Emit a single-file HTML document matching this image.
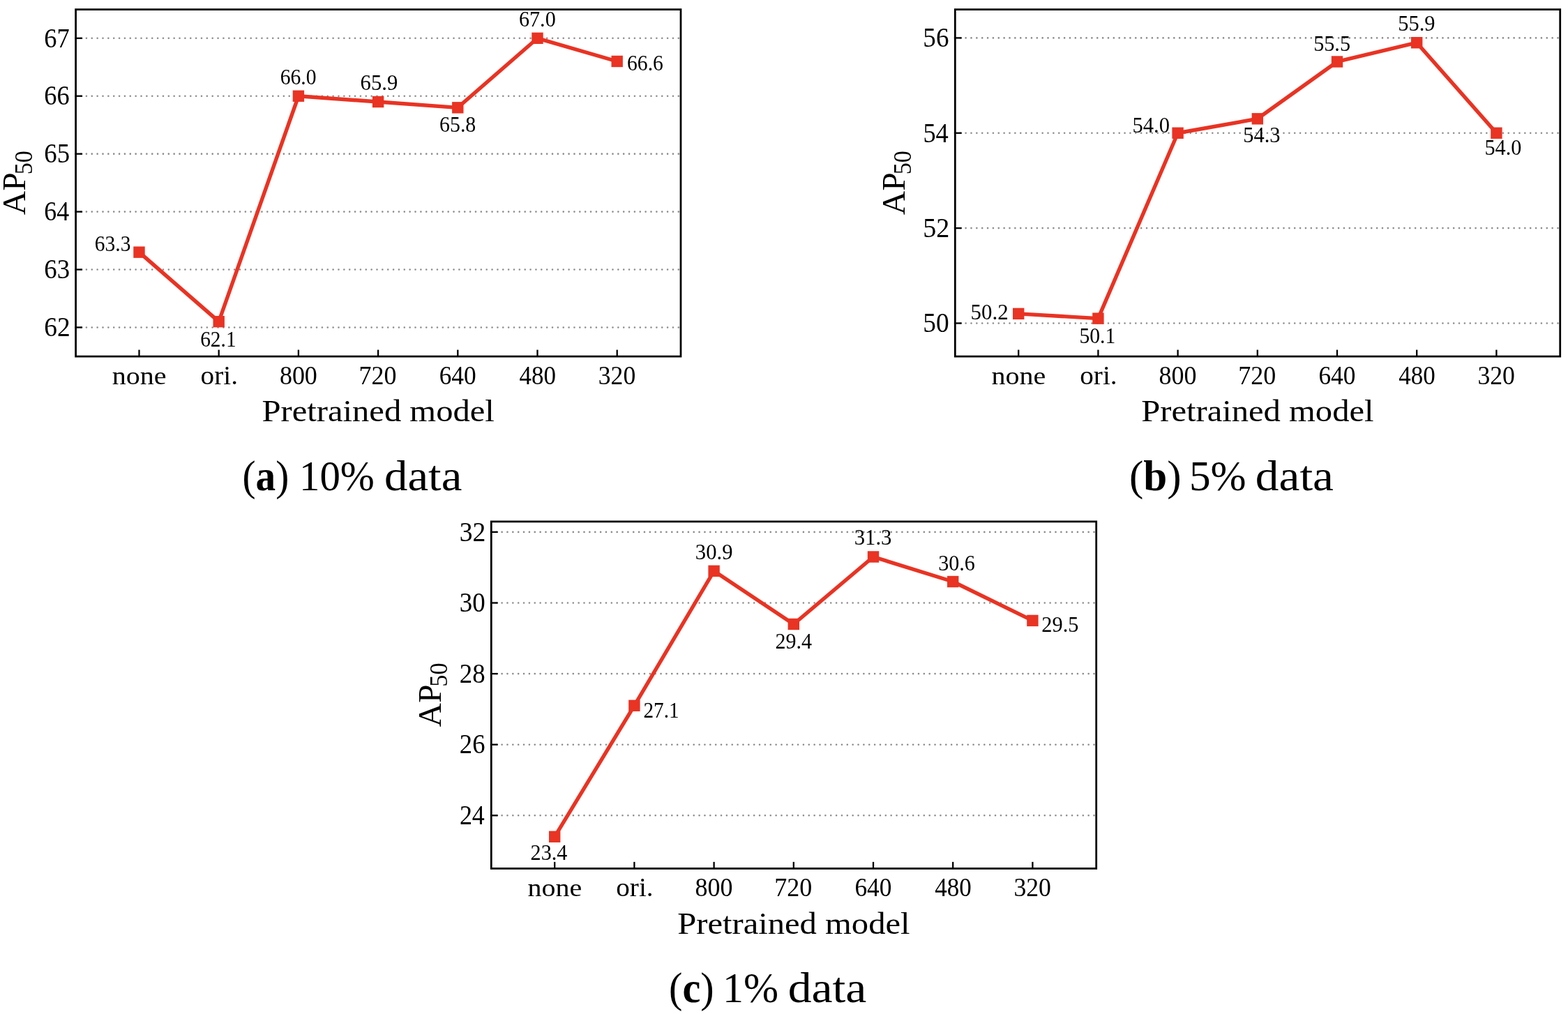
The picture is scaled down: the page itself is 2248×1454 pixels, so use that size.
<!DOCTYPE html>
<html lang="en">
<head>
<meta charset="utf-8">
<title>AP50 vs pretrained model</title>
<style>
html,body{margin:0;padding:0;background:#fff;}
body{width:2248px;height:1454px;overflow:hidden;}
svg{display:block;}
text{font-family:'Liberation Serif', serif;fill:#000;font-kerning:none;white-space:pre;}
</style>
</head>
<body>
<svg width="2248" height="1454" viewBox="0 0 2248 1454">
<rect width="2248" height="1454" fill="#fff"/>
<g transform="translate(0,0)">
<line x1="108.20" x2="974.50" y1="469.45" y2="469.45" stroke="#8c8c8c" stroke-width="2.6" stroke-linecap="round" stroke-dasharray="0.01 7.85"/>
<line x1="108.20" x2="974.50" y1="386.52" y2="386.52" stroke="#8c8c8c" stroke-width="2.6" stroke-linecap="round" stroke-dasharray="0.01 7.85"/>
<line x1="108.20" x2="974.50" y1="303.59" y2="303.59" stroke="#8c8c8c" stroke-width="2.6" stroke-linecap="round" stroke-dasharray="0.01 7.85"/>
<line x1="108.20" x2="974.50" y1="220.66" y2="220.66" stroke="#8c8c8c" stroke-width="2.6" stroke-linecap="round" stroke-dasharray="0.01 7.85"/>
<line x1="108.20" x2="974.50" y1="137.73" y2="137.73" stroke="#8c8c8c" stroke-width="2.6" stroke-linecap="round" stroke-dasharray="0.01 7.85"/>
<line x1="108.20" x2="974.50" y1="54.80" y2="54.80" stroke="#8c8c8c" stroke-width="2.6" stroke-linecap="round" stroke-dasharray="0.01 7.85"/>
<polyline points="199.50,361.64 313.70,461.16 427.90,137.73 542.10,146.02 656.30,154.32 770.50,54.80 884.70,87.97" fill="none" stroke="#e93323" stroke-width="5.4" stroke-linejoin="round"/>
<rect x="191.30" y="353.44" width="16.40" height="16.40" fill="#e93323"/>
<rect x="305.50" y="452.96" width="16.40" height="16.40" fill="#e93323"/>
<rect x="419.70" y="129.53" width="16.40" height="16.40" fill="#e93323"/>
<rect x="533.90" y="137.82" width="16.40" height="16.40" fill="#e93323"/>
<rect x="648.10" y="146.12" width="16.40" height="16.40" fill="#e93323"/>
<rect x="762.30" y="46.60" width="16.40" height="16.40" fill="#e93323"/>
<rect x="876.50" y="79.77" width="16.40" height="16.40" fill="#e93323"/>
<line x1="108.60" x2="118.10" y1="469.45" y2="469.45" stroke="#000" stroke-width="2.3"/>
<line x1="108.60" x2="118.10" y1="386.52" y2="386.52" stroke="#000" stroke-width="2.3"/>
<line x1="108.60" x2="118.10" y1="303.59" y2="303.59" stroke="#000" stroke-width="2.3"/>
<line x1="108.60" x2="118.10" y1="220.66" y2="220.66" stroke="#000" stroke-width="2.3"/>
<line x1="108.60" x2="118.10" y1="137.73" y2="137.73" stroke="#000" stroke-width="2.3"/>
<line x1="108.60" x2="118.10" y1="54.80" y2="54.80" stroke="#000" stroke-width="2.3"/>
<line x1="199.50" x2="199.50" y1="511.10" y2="501.60" stroke="#000" stroke-width="2.3"/>
<line x1="313.70" x2="313.70" y1="511.10" y2="501.60" stroke="#000" stroke-width="2.3"/>
<line x1="427.90" x2="427.90" y1="511.10" y2="501.60" stroke="#000" stroke-width="2.3"/>
<line x1="542.10" x2="542.10" y1="511.10" y2="501.60" stroke="#000" stroke-width="2.3"/>
<line x1="656.30" x2="656.30" y1="511.10" y2="501.60" stroke="#000" stroke-width="2.3"/>
<line x1="770.50" x2="770.50" y1="511.10" y2="501.60" stroke="#000" stroke-width="2.3"/>
<line x1="884.70" x2="884.70" y1="511.10" y2="501.60" stroke="#000" stroke-width="2.3"/>
<rect x="108.60" y="13.60" width="867.40" height="497.50" fill="none" stroke="#000" stroke-width="2.75"/>
<text transform="translate(63.21,482.21) scale(0.9504,1)" font-size="39.41">62</text>
<text transform="translate(63.23,399.28) scale(0.9349,1)" font-size="39.41">63</text>
<text transform="translate(63.28,316.35) scale(0.9101,1)" font-size="39.41">64</text>
<text transform="translate(63.23,233.42) scale(0.9349,1)" font-size="39.41">65</text>
<text transform="translate(63.25,150.49) scale(0.9248,1)" font-size="39.41">66</text>
<text transform="translate(63.25,67.56) scale(0.9248,1)" font-size="39.41">67</text>
<text transform="translate(160.80,550.74) scale(1.0986,1)" font-size="36.46">none</text>
<text transform="translate(287.53,550.52) scale(1.0158,1)" font-size="38.67">ori.</text>
<text transform="translate(400.90,550.71) scale(0.9275,1)" font-size="38.81">800</text>
<text transform="translate(514.61,550.71) scale(0.9273,1)" font-size="38.81">720</text>
<text transform="translate(629.70,550.71) scale(0.9108,1)" font-size="38.81">640</text>
<text transform="translate(744.55,550.71) scale(0.9019,1)" font-size="38.81">480</text>
<text transform="translate(857.75,550.71) scale(0.9195,1)" font-size="38.81">320</text>
<text transform="translate(375.54,604.45) scale(1.0742,1)" font-size="45.25">Pretrained model</text>
<g transform="translate(36.4,308.2) rotate(-90)"><text font-size="45.4" transform="scale(1.05,1)">AP<tspan font-size="35.6" dx="-2.9" dy="9.1" textLength="32.6" lengthAdjust="spacingAndGlyphs">50</tspan></text></g>
</g>
<text transform="translate(135.85,359.83) scale(0.9300,1)" font-size="31.66">63.3</text>
<text transform="translate(287.15,496.83) scale(0.9298,1)" font-size="31.66">62.1</text>
<text transform="translate(401.74,120.62) scale(0.9353,1)" font-size="31.69">66.0</text>
<text transform="translate(516.60,128.83) scale(0.9698,1)" font-size="31.66">65.9</text>
<text transform="translate(630.03,189.12) scale(0.9299,1)" font-size="32.13">65.8</text>
<text transform="translate(743.92,37.93) scale(0.9567,1)" font-size="31.54">67.0</text>
<text transform="translate(899.04,101.02) scale(0.9271,1)" font-size="31.96">66.6</text>
<g>
<text transform="translate(347.42,702.50) scale(0.9296,1)" font-size="61.60">(<tspan font-weight="bold">a</tspan>) </text>
<text transform="translate(428.94,702.50) scale(0.9565,1)" font-size="61.60">10% </text>
<text transform="translate(551.06,702.50) scale(1.0849,1)" font-size="61.60">data</text>
</g>
<g transform="translate(1260.7,0)">
<line x1="108.20" x2="974.50" y1="463.48" y2="463.48" stroke="#8c8c8c" stroke-width="2.6" stroke-linecap="round" stroke-dasharray="0.01 7.85"/>
<line x1="108.20" x2="974.50" y1="327.12" y2="327.12" stroke="#8c8c8c" stroke-width="2.6" stroke-linecap="round" stroke-dasharray="0.01 7.85"/>
<line x1="108.20" x2="974.50" y1="190.76" y2="190.76" stroke="#8c8c8c" stroke-width="2.6" stroke-linecap="round" stroke-dasharray="0.01 7.85"/>
<line x1="108.20" x2="974.50" y1="54.40" y2="54.40" stroke="#8c8c8c" stroke-width="2.6" stroke-linecap="round" stroke-dasharray="0.01 7.85"/>
<polyline points="199.50,449.84 313.70,456.66 427.90,190.76 542.10,170.31 656.30,88.49 770.50,61.22 884.70,190.76" fill="none" stroke="#e93323" stroke-width="5.4" stroke-linejoin="round"/>
<rect x="191.30" y="441.64" width="16.40" height="16.40" fill="#e93323"/>
<rect x="305.50" y="448.46" width="16.40" height="16.40" fill="#e93323"/>
<rect x="419.70" y="182.56" width="16.40" height="16.40" fill="#e93323"/>
<rect x="533.90" y="162.11" width="16.40" height="16.40" fill="#e93323"/>
<rect x="648.10" y="80.29" width="16.40" height="16.40" fill="#e93323"/>
<rect x="762.30" y="53.02" width="16.40" height="16.40" fill="#e93323"/>
<rect x="876.50" y="182.56" width="16.40" height="16.40" fill="#e93323"/>
<line x1="108.60" x2="118.10" y1="463.48" y2="463.48" stroke="#000" stroke-width="2.3"/>
<line x1="108.60" x2="118.10" y1="327.12" y2="327.12" stroke="#000" stroke-width="2.3"/>
<line x1="108.60" x2="118.10" y1="190.76" y2="190.76" stroke="#000" stroke-width="2.3"/>
<line x1="108.60" x2="118.10" y1="54.40" y2="54.40" stroke="#000" stroke-width="2.3"/>
<line x1="199.50" x2="199.50" y1="511.10" y2="501.60" stroke="#000" stroke-width="2.3"/>
<line x1="313.70" x2="313.70" y1="511.10" y2="501.60" stroke="#000" stroke-width="2.3"/>
<line x1="427.90" x2="427.90" y1="511.10" y2="501.60" stroke="#000" stroke-width="2.3"/>
<line x1="542.10" x2="542.10" y1="511.10" y2="501.60" stroke="#000" stroke-width="2.3"/>
<line x1="656.30" x2="656.30" y1="511.10" y2="501.60" stroke="#000" stroke-width="2.3"/>
<line x1="770.50" x2="770.50" y1="511.10" y2="501.60" stroke="#000" stroke-width="2.3"/>
<line x1="884.70" x2="884.70" y1="511.10" y2="501.60" stroke="#000" stroke-width="2.3"/>
<rect x="108.60" y="13.60" width="867.40" height="497.50" fill="none" stroke="#000" stroke-width="2.75"/>
<text transform="translate(62.65,476.24) scale(0.9513,1)" font-size="39.26">50</text>
<text transform="translate(62.61,339.88) scale(0.9665,1)" font-size="39.41">52</text>
<text transform="translate(62.70,203.51) scale(0.9179,1)" font-size="39.70">54</text>
<text transform="translate(62.67,67.16) scale(0.9400,1)" font-size="39.41">56</text>
<text transform="translate(160.80,550.74) scale(1.0986,1)" font-size="36.46">none</text>
<text transform="translate(287.53,550.52) scale(1.0158,1)" font-size="38.67">ori.</text>
<text transform="translate(400.90,550.71) scale(0.9275,1)" font-size="38.81">800</text>
<text transform="translate(514.61,550.71) scale(0.9273,1)" font-size="38.81">720</text>
<text transform="translate(629.70,550.71) scale(0.9108,1)" font-size="38.81">640</text>
<text transform="translate(744.55,550.71) scale(0.9019,1)" font-size="38.81">480</text>
<text transform="translate(857.75,550.71) scale(0.9195,1)" font-size="38.81">320</text>
<text transform="translate(375.54,604.45) scale(1.0742,1)" font-size="45.25">Pretrained model</text>
<g transform="translate(36.4,308.2) rotate(-90)"><text font-size="45.4" transform="scale(1.05,1)">AP<tspan font-size="35.6" dx="-2.9" dy="9.1" textLength="32.6" lengthAdjust="spacingAndGlyphs">50</tspan></text></g>
</g>
<text transform="translate(1391.62,458.13) scale(0.9842,1)" font-size="31.40">50.2</text>
<text transform="translate(1547.40,492.02) scale(0.9312,1)" font-size="31.84">50.1</text>
<text transform="translate(1623.44,189.92) scale(0.9603,1)" font-size="31.84">54.0</text>
<text transform="translate(1782.25,204.32) scale(0.9500,1)" font-size="32.10">54.3</text>
<text transform="translate(1883.16,73.02) scale(0.9345,1)" font-size="32.31">55.5</text>
<text transform="translate(2004.15,44.13) scale(0.9678,1)" font-size="31.51">55.9</text>
<text transform="translate(2128.46,222.03) scale(0.9597,1)" font-size="31.54">54.0</text>
<g>
<text transform="translate(1618.95,702.50) scale(0.9919,1)" font-size="61.60">(<tspan font-weight="bold">b</tspan>) </text>
<text transform="translate(1704.98,702.50) scale(0.9943,1)" font-size="61.60">5% </text>
<text transform="translate(1799.84,702.50) scale(1.0930,1)" font-size="61.60">data</text>
</g>
<g transform="translate(595.7,734.3)">
<line x1="108.20" x2="974.50" y1="435.00" y2="435.00" stroke="#8c8c8c" stroke-width="2.6" stroke-linecap="round" stroke-dasharray="0.01 7.85"/>
<line x1="108.20" x2="974.50" y1="333.40" y2="333.40" stroke="#8c8c8c" stroke-width="2.6" stroke-linecap="round" stroke-dasharray="0.01 7.85"/>
<line x1="108.20" x2="974.50" y1="231.80" y2="231.80" stroke="#8c8c8c" stroke-width="2.6" stroke-linecap="round" stroke-dasharray="0.01 7.85"/>
<line x1="108.20" x2="974.50" y1="130.20" y2="130.20" stroke="#8c8c8c" stroke-width="2.6" stroke-linecap="round" stroke-dasharray="0.01 7.85"/>
<line x1="108.20" x2="974.50" y1="28.60" y2="28.60" stroke="#8c8c8c" stroke-width="2.6" stroke-linecap="round" stroke-dasharray="0.01 7.85"/>
<polyline points="199.50,465.48 313.70,277.52 427.90,84.48 542.10,160.68 656.30,64.16 770.50,99.72 884.70,155.60" fill="none" stroke="#e93323" stroke-width="5.4" stroke-linejoin="round"/>
<rect x="191.30" y="457.28" width="16.40" height="16.40" fill="#e93323"/>
<rect x="305.50" y="269.32" width="16.40" height="16.40" fill="#e93323"/>
<rect x="419.70" y="76.28" width="16.40" height="16.40" fill="#e93323"/>
<rect x="533.90" y="152.48" width="16.40" height="16.40" fill="#e93323"/>
<rect x="648.10" y="55.96" width="16.40" height="16.40" fill="#e93323"/>
<rect x="762.30" y="91.52" width="16.40" height="16.40" fill="#e93323"/>
<rect x="876.50" y="147.40" width="16.40" height="16.40" fill="#e93323"/>
<line x1="108.60" x2="118.10" y1="435.00" y2="435.00" stroke="#000" stroke-width="2.3"/>
<line x1="108.60" x2="118.10" y1="333.40" y2="333.40" stroke="#000" stroke-width="2.3"/>
<line x1="108.60" x2="118.10" y1="231.80" y2="231.80" stroke="#000" stroke-width="2.3"/>
<line x1="108.60" x2="118.10" y1="130.20" y2="130.20" stroke="#000" stroke-width="2.3"/>
<line x1="108.60" x2="118.10" y1="28.60" y2="28.60" stroke="#000" stroke-width="2.3"/>
<line x1="199.50" x2="199.50" y1="511.10" y2="501.60" stroke="#000" stroke-width="2.3"/>
<line x1="313.70" x2="313.70" y1="511.10" y2="501.60" stroke="#000" stroke-width="2.3"/>
<line x1="427.90" x2="427.90" y1="511.10" y2="501.60" stroke="#000" stroke-width="2.3"/>
<line x1="542.10" x2="542.10" y1="511.10" y2="501.60" stroke="#000" stroke-width="2.3"/>
<line x1="656.30" x2="656.30" y1="511.10" y2="501.60" stroke="#000" stroke-width="2.3"/>
<line x1="770.50" x2="770.50" y1="511.10" y2="501.60" stroke="#000" stroke-width="2.3"/>
<line x1="884.70" x2="884.70" y1="511.10" y2="501.60" stroke="#000" stroke-width="2.3"/>
<rect x="108.60" y="13.60" width="867.40" height="497.50" fill="none" stroke="#000" stroke-width="2.75"/>
<text transform="translate(63.18,448.15) scale(0.8989,1)" font-size="40.00">24</text>
<text transform="translate(63.16,346.16) scale(0.9273,1)" font-size="39.41">26</text>
<text transform="translate(63.14,244.56) scale(0.9384,1)" font-size="39.26">28</text>
<text transform="translate(63.05,142.96) scale(0.9409,1)" font-size="39.26">30</text>
<text transform="translate(63.01,41.36) scale(0.9557,1)" font-size="39.41">32</text>
<text transform="translate(160.80,550.74) scale(1.0986,1)" font-size="36.46">none</text>
<text transform="translate(287.53,550.52) scale(1.0158,1)" font-size="38.67">ori.</text>
<text transform="translate(400.90,550.71) scale(0.9275,1)" font-size="38.81">800</text>
<text transform="translate(514.61,550.71) scale(0.9273,1)" font-size="38.81">720</text>
<text transform="translate(629.70,550.71) scale(0.9108,1)" font-size="38.81">640</text>
<text transform="translate(744.55,550.71) scale(0.9019,1)" font-size="38.81">480</text>
<text transform="translate(857.75,550.71) scale(0.9195,1)" font-size="38.81">320</text>
<text transform="translate(375.54,604.45) scale(1.0742,1)" font-size="45.25">Pretrained model</text>
<g transform="translate(36.4,308.2) rotate(-90)"><text font-size="45.4" transform="scale(1.05,1)">AP<tspan font-size="35.6" dx="-2.9" dy="9.1" textLength="32.6" lengthAdjust="spacingAndGlyphs">50</tspan></text></g>
</g>
<text transform="translate(760.59,1232.53) scale(0.9522,1)" font-size="31.66">23.4</text>
<text transform="translate(922.48,1029.12) scale(0.9150,1)" font-size="31.96">27.1</text>
<text transform="translate(996.84,802.23) scale(0.9761,1)" font-size="31.40">30.9</text>
<text transform="translate(1111.55,930.32) scale(0.9345,1)" font-size="32.10">29.4</text>
<text transform="translate(1224.74,781.33) scale(0.9827,1)" font-size="31.22">31.3</text>
<text transform="translate(1345.17,818.12) scale(0.9509,1)" font-size="31.69">30.6</text>
<text transform="translate(1493.33,905.73) scale(0.9735,1)" font-size="31.22">29.5</text>
<g>
<text transform="translate(959.08,1436.80) scale(0.9462,1)" font-size="61.60">(<tspan font-weight="bold">c</tspan>) </text>
<text transform="translate(1036.04,1436.80) scale(0.9760,1)" font-size="61.60">1% </text>
<text transform="translate(1129.73,1436.80) scale(1.0980,1)" font-size="61.60">data</text>
</g>
</svg>
</body>
</html>
